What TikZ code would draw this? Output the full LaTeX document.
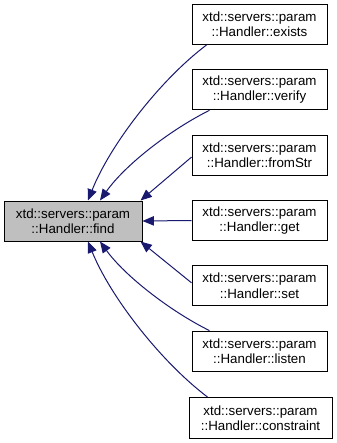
\documentclass[tikz,border=0pt]{standalone}
\usepackage{fontspec}
\setmainfont{Liberation Sans}
\usetikzlibrary{arrows.meta,calc}
\definecolor{edgeblue}{HTML}{191970}
\definecolor{nodegray}{HTML}{BFBFBF}
\begin{document}
\begin{tikzpicture}[x=0.75pt,y=-0.75pt,
  fn/.style={draw=black,line width=0.75pt,fill=white,rectangle,align=center,
    inner sep=0pt,minimum height=40*0.75pt,minimum width=135*0.75pt,
    font=\fontsize{10}{11.5}\selectfont},
  calledby/.style={draw=edgeblue,line width=0.75pt,
    {Triangle[length=8.5pt,width=7pt]}-}]
\useasboundingbox (0,0) rectangle (336,443);

\node[fn,fill=nodegray,minimum width=138*0.75pt] (find) at (73,221)
  {xtd::servers::param\\::Handler::find};

\node[fn] (exists)  at (259.5,24.5)  {xtd::servers::param\\::Handler::exists};
\node[fn] (verify)  at (259.5,89.8)  {xtd::servers::param\\::Handler::verify};
\node[fn] (fromStr) at (259.5,155.1) {xtd::servers::param\\::Handler::fromStr};
\node[fn] (get)     at (259.5,220.5) {xtd::servers::param\\::Handler::get};
\node[fn] (set)     at (259.5,285.8) {xtd::servers::param\\::Handler::set};
\node[fn] (listen)  at (259.5,351.1) {xtd::servers::param\\::Handler::listen};
\node[fn,minimum width=143*0.75pt,minimum height=41*0.75pt] (constraint) at (260.5,418)
  {xtd::servers::param\\::Handler::constraint};

% callers above the horizontal
\draw[calledby] ($(find.north)+(15,0)$) .. controls (110,145) and (160,80) .. ($(exists.south west)+(15,0)$);
\draw[calledby] ($(find.north)+(27,0)$) .. controls (125,165) and (170,130) .. ($(verify.south west)+(18,0)$);
\draw[calledby] ($(find.north east)+(-2,0)$) -- ($(fromStr.west)+(0,2)$);
% same rank
\draw[calledby] (find.east) -- (get.west);
% callers below the horizontal
\draw[calledby] ($(find.south east)+(-2,0)$) -- ($(set.west)+(0,-3)$);
\draw[calledby] ($(find.south)+(27,0)$) .. controls (125,276) and (170,311) .. ($(listen.north west)+(18,0)$);
\draw[calledby] ($(find.south)+(15,0)$) .. controls (110,296) and (160,361) .. ($(constraint.north west)+(19,0)$);
\end{tikzpicture}
\end{document}
